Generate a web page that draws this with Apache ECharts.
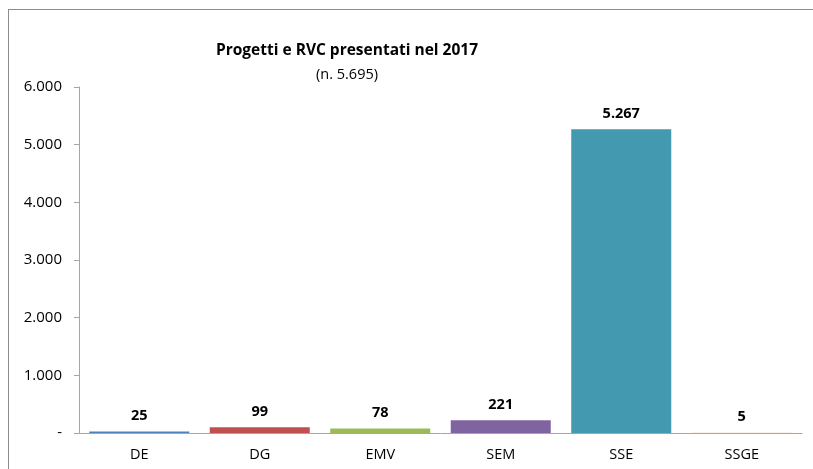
<!DOCTYPE html>
<html lang="it">
<head>
    <meta charset="UTF-8">
    <title>Progetti e RVC presentati nel 2017</title>
    <style>
        html, body { margin: 0; padding: 0; background: #fff; }
        #frame { position: absolute; left: 8px; top: 9px; width: 820px; height: 480px; border: 1px solid #8c8c8c; box-sizing: border-box; }
        #chart { position: absolute; left: 0; top: 0; width: 813px; height: 469px; }
    </style>
</head>
<body>
<div id="frame"></div>
<div id="chart"></div>
<script src="https://cdn.jsdelivr.net/npm/echarts@6/dist/echarts.min.js"></script>
<script>
    // dati
    var categorie = ['DE', 'DG', 'EMV', 'SEM', 'SSE', 'SSGE'];
    var valori = [25, 99, 78, 221, 5267, 5];
    var colori = ['#4f81bd', '#c0504d', '#9bbb59', '#8064a2', '#4399b0', '#f8c49a'];
    var titolo = 'Progetti e RVC presentati nel 2017';
    var sottotitolo = '(n. 5.695)';

    // separatore migliaia all'italiana
    function formatta(v) {
        if (v === 0) return '-';
        return String(v).replace(/\B(?=(\d{3})+(?!\d))/g, '.');
    }

    var font = '"Open Sans", "Liberation Sans", sans-serif';
    var myChart = echarts.init(document.getElementById('chart'));

    var option = {
        animation: false,
        title: {
            text: titolo,
            subtext: sottotitolo,
            left: 342,
            top: 38,
            textAlign: 'center',
            itemGap: 8,
            textStyle: { fontFamily: font, fontSize: 15.5, fontWeight: 'bold', color: '#000' },
            subtextStyle: { fontFamily: font, fontSize: 14.5, color: '#000' }
        },
        grid: { left: 79, right: 11, top: 87, bottom: 36 },
        xAxis: {
            type: 'category',
            data: categorie,
            axisLine: { lineStyle: { color: '#a6a6a6' } },
            axisTick: { show: false },
            axisLabel: { fontFamily: font, fontSize: 14.5, color: '#000', margin: 14 }
        },
        yAxis: {
            type: 'value',
            min: 0,
            max: 6000,
            interval: 1000,
            splitLine: { show: false },
            axisLine: { show: true, lineStyle: { color: '#a6a6a6' } },
            axisTick: { show: true, length: 5, lineStyle: { color: '#a6a6a6' } },
            axisLabel: { fontFamily: font, fontSize: 15, color: '#000', margin: 17, formatter: formatta }
        },
        series: [{
            type: 'bar',
            barCategoryGap: '17%',
            data: valori.map(function (v, i) {
                return { value: v, itemStyle: { color: colori[i] } };
            }),
            label: {
                show: true,
                position: 'top',
                distance: 8,
                fontFamily: font,
                fontSize: 14.5,
                fontWeight: 'bold',
                color: '#000',
                formatter: function (p) { return formatta(p.value); }
            }
        }]
    };
    myChart.setOption(option);
</script>
</body>
</html>
